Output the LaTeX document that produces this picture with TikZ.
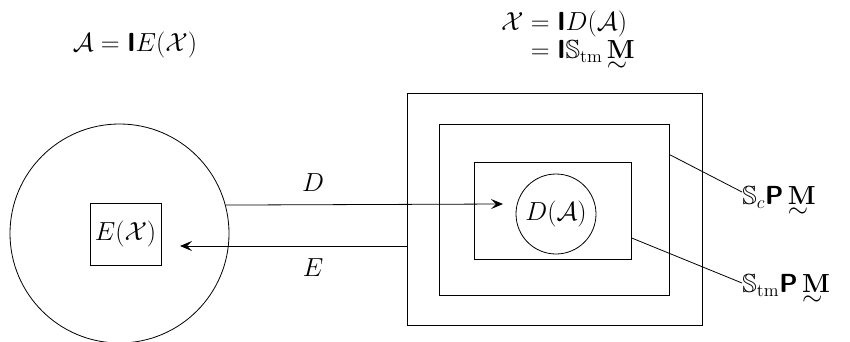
\documentclass[tikz,border=0pt]{standalone}
\usepackage{amsmath,amssymb,graphicx}
\usetikzlibrary{arrows.meta,calc}
\newcommand{\bsI}{\textsf{\bfseries I}}
\newcommand{\bsP}{\textsf{\bfseries P}}
\newcommand{\tM}{\mathord{\mbox{\oalign{$\mathbf{M}$\crcr$\sim$}}}}
\newcommand{\sz}[1]{\scalebox{1.26}{#1}}
\begin{document}
\begin{tikzpicture}[x=1pt,y=-1pt,
  font=\huge,
  line width=0.8pt,
  box/.style={draw,inner sep=0pt},
  ring/.style={draw,circle,inner sep=0pt},
  lbl/.style={inner sep=1pt},
  arr/.style={-{Stealth[length=12pt,width=10pt,inset=5pt]}}]
\useasboundingbox (0,0) rectangle (850,342);
% left part
\node[ring,minimum size=219pt] (bigc) at (119.5,233.5) {};
\node[box,minimum width=71pt,minimum height=62pt] (ebox) at (125.5,234) {\sz{$E(\mathcal{X})$}};
\node[lbl] (alab) at (135,45) {\sz{$\mathcal{A}=\bsI E(\mathcal{X})$}};
% right part
\node[box,minimum width=295pt,minimum height=232pt] (outer) at (554.5,209) {};
\node[box,minimum width=230pt,minimum height=171pt] (mid) at (554,209.5) {};
\node[box,minimum width=157pt,minimum height=97pt] (inner) at (552.5,210.5) {};
\node[ring,minimum size=80pt] (smc) at (556,214) {\sz{$D(\mathcal{A})$}};
\node[lbl] (xlab) at (568,40) {\sz{$\begin{aligned}\mathcal{X}&=\bsI D(\mathcal{A})\\[-6pt] &=\bsI\mathbb{S}_{\mathrm{tm}}\,\tM\end{aligned}$}};
% arrows
\coordinate (dtip) at (503,204);
\coordinate (etip) at (180,246);
\draw[arr] (bigc.15.6) -- (dtip);
\draw[arr] (outer.west |- etip) -- (etip);
\node[lbl] (dlab) at (313,183) {\sz{$D$}};
\node[lbl] (elab) at (313,268) {\sz{$E$}};
% side labels
\node[lbl,anchor=west] (sc) at (741,202) {\sz{$\mathbb{S}_c\bsP\,\tM$}};
\node[lbl,anchor=west] (stm) at (741,290) {\sz{$\mathbb{S}_{\mathrm{tm}}\bsP\,\tM$}};
\coordinate (sce) at (742,192);
\coordinate (stme) at (742,283);
\draw ($(mid.north east)!0.18!(mid.south east)$) -- (sce);
\draw ($(inner.north east)!0.78!(inner.south east)$) -- (stme);
\end{tikzpicture}
\end{document}
